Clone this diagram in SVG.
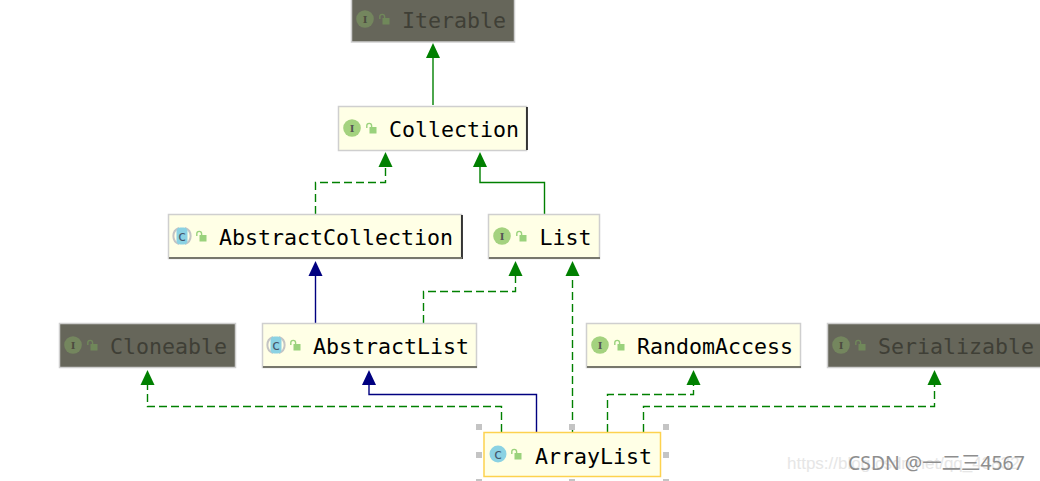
<svg xmlns="http://www.w3.org/2000/svg" width="1040" height="481" viewBox="0 0 1040 481">
<style>
.box{fill:#ffffe6;stroke:#cfcfcf;stroke-width:1.5}
.dim{fill:#66665a;stroke:#cfcfcf;stroke-width:1.5}
.base{stroke:#77776c;stroke-width:2;fill:none}
.edge{stroke:#000;stroke-width:1.5;fill:none}
text.n{font-family:"DejaVu Sans Mono",monospace;font-size:21.6px;fill:#000}
.dimg text.n{fill:#3f3f36}
.ib{fill:#a4d27f}.ibt{font-family:"DejaVu Serif",serif;font-size:10px;font-weight:bold;fill:#555;text-anchor:middle}
.ibd{fill:#74865e}.ibtd{font-family:"DejaVu Serif",serif;font-size:10px;font-weight:bold;fill:#4c4c40;text-anchor:middle}
.cb{fill:#8bd2e3}.cbr{fill:none;stroke:#c4c4c4;stroke-width:2}.cbt{font-family:"DejaVu Sans",sans-serif;font-size:14px;fill:#44566a;text-anchor:middle}
.lk{fill:#9ad27c}.lks{fill:none;stroke:#9ad27c;stroke-width:1.4}
.lkd{fill:#70885a}.lksd{fill:none;stroke:#70885a;stroke-width:1.4}
.g{stroke:#008000;stroke-width:1.4;fill:none}.d{stroke-dasharray:8 4}.b{stroke:#000080;stroke-width:1.4;fill:none}
.ga{fill:#008000}.ba{fill:#000080}
.h{fill:#c4c4c4}
</style>
<defs>
<g id="lock"><rect class="lk" x="3.500" y="4" width="7" height="6.500"/><path class="lks" d="M0.800 5V2.800a2.400 2.400 0 0 1 4.800 0V4"/></g>
<g id="lockd"><rect class="lkd" x="3.500" y="4" width="7" height="6.500"/><path class="lksd" d="M0.800 5V2.800a2.400 2.400 0 0 1 4.800 0V4"/></g>
<g id="ii"><circle class="ib" cx="0" cy="0" r="8.800"/><text class="ibt" x="0" y="3.600">I</text></g>
<g id="iid"><circle class="ibd" cx="0" cy="0" r="8.800"/><text class="ibtd" x="0" y="3.600">I</text></g>
<g id="ci"><circle class="cb" cx="0" cy="0" r="8.500"/><text class="cbt" x="0" y="4.500">c</text></g>
<g id="ai"><path class="cbr" d="M-3 -8A8.500 8.500 0 0 0 -3 8M3 -8A8.500 8.500 0 0 1 3 8"/><rect class="cb" x="-5.500" y="-8.500" width="11" height="17" rx="4"/><text class="cbt" x="0" y="4.500">c</text></g>
</defs>
<g id="connectors">
<path class="g" d="M433 105V56"/><path class="ga" d="M433 43l7 15h-14z"/>
<path class="g d" d="M315.500 214V182.500H385.500V165"/><path class="ga" d="M385.500 152l7 15h-14z"/>
<path class="g" d="M544.500 214V182.500H480V165"/><path class="ga" d="M480 152l7 15h-14z"/>
<path class="b" d="M315.500 323V274"/><path class="ba" d="M315.500 261l7 15h-14z"/>
<path class="g d" d="M423.500 323V291.500H515.500V274"/><path class="ga" d="M515.500 261l7 15h-14z"/>
<path class="g d" d="M572.500 432V274"/><path class="ga" d="M572.500 261l7 15h-14z"/>
<path class="g d" d="M501.500 432V406.500H147.500V383"/><path class="ga" d="M147.500 370l7 15h-14z"/>
<path class="b" d="M536.500 432V394.500H369V383"/><path class="ba" d="M369 370l7 15h-14z"/>
<path class="g d" d="M607.500 432V394.500H693.500V383"/><path class="ga" d="M693.500 370l7 15h-14z"/>
<path class="g d" d="M643.500 432V406.500H934.500V383"/><path class="ga" d="M934.500 370l7 15h-14z"/>
</g>
<g id="node-iterable" class="dimg"><rect class="dim" x="351.500" y="-2" width="163" height="44"/><use href="#iid" x="365" y="19"/><use href="#lockd" x="379" y="14"/><text class="n" x="402" y="28">Iterable</text></g>
<g id="node-collection"><rect class="box" x="338.500" y="106.500" width="188" height="44"/><path class="edge" d="M527 107V150"/><use href="#ii" x="352" y="128"/><use href="#lock" x="366" y="123"/><text class="n" x="389" y="137">Collection</text></g>
<g id="node-abstractcollection"><rect class="box" x="168.500" y="214.500" width="293" height="44"/><path class="edge" d="M462 215V259"/><path class="base" d="M169 258H462"/><use href="#ai" x="182" y="236"/><use href="#lock" x="196" y="231"/><text class="n" x="219" y="245">AbstractCollection</text></g>
<g id="node-list"><rect class="box" x="488.500" y="214.500" width="111" height="44"/><path class="base" d="M489 258H600"/><use href="#ii" x="502" y="236"/><use href="#lock" x="516" y="231"/><text class="n" x="539.500" y="245">List</text></g>
<g id="node-cloneable" class="dimg"><rect class="dim" x="59.500" y="323.500" width="176" height="44"/><use href="#iid" x="73" y="345"/><use href="#lockd" x="87" y="340"/><text class="n" x="110" y="354">Cloneable</text></g>
<g id="node-abstractlist"><rect class="box" x="262.500" y="323.500" width="214" height="44"/><path class="base" d="M263 367H477"/><use href="#ai" x="276" y="345"/><use href="#lock" x="290" y="340"/><text class="n" x="313" y="354">AbstractList</text></g>
<g id="node-randomaccess"><rect class="box" x="586.500" y="323.500" width="214" height="44"/><path class="base" d="M587 367H801"/><use href="#ii" x="600" y="345"/><use href="#lock" x="614" y="340"/><text class="n" x="637" y="354">RandomAccess</text></g>
<g id="node-serializable" class="dimg"><rect class="dim" x="827.500" y="323.500" width="214" height="44"/><use href="#iid" x="841" y="345"/><use href="#lockd" x="855" y="340"/><text class="n" x="878" y="354">Serializable</text></g>
<g id="node-arraylist">
<rect class="h" x="476" y="424" width="6" height="6"/><rect class="h" x="569" y="424" width="6" height="6"/><rect class="h" x="663" y="424" width="6" height="6"/><rect class="h" x="476" y="452" width="6" height="6"/><rect class="h" x="663" y="452" width="6" height="6"/><rect class="h" x="476" y="479" width="6" height="3"/><rect class="h" x="569" y="479" width="6" height="3"/><rect class="h" x="663" y="479" width="6" height="3"/>
<rect x="484" y="432.500" width="176.500" height="44" fill="#ffffe6" stroke="#fdd24f" stroke-width="1.5"/><use href="#ci" x="498" y="454"/><use href="#lock" x="511" y="449"/><text class="n" x="535" y="464">ArrayList</text></g>
<g id="watermark"><text x="787" y="469" font-family="Liberation Sans, sans-serif" font-size="17" fill="#e6e6e6">https://blog.csdn.net/qq_43832</text>
<text x="848" y="470" font-family="'Noto Sans','Noto Sans CJK SC',sans-serif" font-size="19.400" fill="#8e8e8e">CSDN @一二三4567</text></g>
</svg>
